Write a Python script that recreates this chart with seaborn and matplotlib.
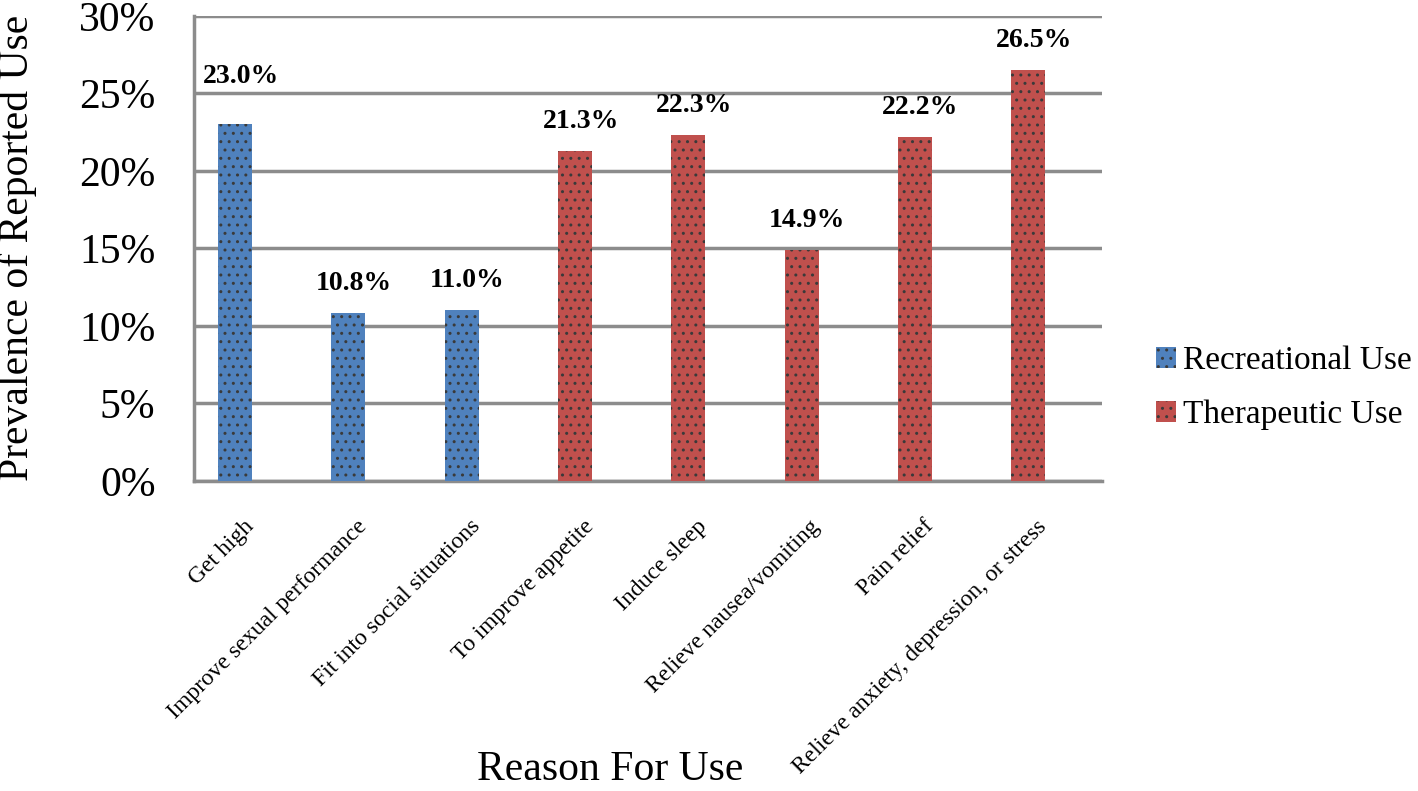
import matplotlib
matplotlib.use("Agg")
import matplotlib.pyplot as plt
import matplotlib.transforms as mtransforms
import pandas as pd
import seaborn as sns

reasons = [
    "Get high",
    "Improve sexual performance",
    "Fit into social situations",
    "To improve appetite",
    "Induce sleep",
    "Relieve nausea/vomiting",
    "Pain relief",
    "Relieve anxiety, depression, or stress",
]
prevalence = [23.0, 10.8, 11.0, 21.3, 22.3, 14.9, 22.2, 26.5]
use_type = ["Recreational Use"] * 3 + ["Therapeutic Use"] * 5
label_lift = [2.3, 1.1, 1.1, 1.1, 1.1, 1.1, 1.1, 1.1]

df = pd.DataFrame({"reason": reasons, "value": prevalence, "type": use_type})

sns.set_style("white")
plt.rcParams["font.family"] = ["Liberation Serif", "DejaVu Serif"]
plt.rcParams["text.color"] = "black"
plt.rcParams["xtick.color"] = "black"
plt.rcParams["ytick.color"] = "black"
plt.rcParams["axes.labelcolor"] = "black"
plt.rcParams["hatch.linewidth"] = 1.0

fig = plt.figure(figsize=(14.18, 7.91), dpi=100)
ax = fig.add_axes([0.137, 0.392, 0.640, 0.588])

sns.barplot(data=df, x="reason", y="value", hue="type", dodge=False,
            palette={"Recreational Use": "#4f81bd", "Therapeutic Use": "#c0504d"},
            saturation=1, width=0.30, ax=ax, zorder=3)
for p in ax.patches:
    p.set_hatch("..")
    p.set_edgecolor("#3a3a3a")
    p.set_linewidth(0)

for i, (v, lift) in enumerate(zip(prevalence, label_lift)):
    ax.text(i + 0.05, v + lift, f"{v:.1f}%", ha="center", va="bottom",
            fontsize=20, fontweight="bold")

ax.set_xlim(-0.36, 7.65)
ax.set_ylim(0, 30)
ax.set_yticks(range(0, 31, 5))
ax.set_yticklabels([f"{t}%" for t in range(0, 31, 5)], fontsize=30)
ax.yaxis.grid(True, color="#8c8c8c", linewidth=2.5, zorder=0)
ax.set_axisbelow(True)
ax.tick_params(axis="y", length=0, pad=28)
ax.tick_params(axis="x", length=0)

offset = mtransforms.ScaledTranslation(8 / 100, -30 / 100, fig.dpi_scale_trans)
ax.set_xticks(range(len(reasons)))
ax.set_xticklabels(reasons, rotation=45, ha="right", rotation_mode="anchor", fontsize=17)
for lbl in ax.get_xticklabels():
    lbl.set_transform(lbl.get_transform() + offset)

for s in ["top", "right"]:
    ax.spines[s].set_visible(False)
for s in ["left", "bottom"]:
    ax.spines[s].set_color("#8c8c8c")
    ax.spines[s].set_linewidth(2.5)

ax.set_ylabel("Prevalence of Reported Use", fontsize=30)
ax.yaxis.set_label_coords(-0.173, 0.5)
ax.set_xlabel("")
fig.text(0.430, 0.003, "Reason For Use", ha="center", va="bottom", fontsize=30)

ax.legend(loc="center left", bbox_to_anchor=(1.06, 0.2), frameon=False,
          fontsize=24, handlelength=0.6, handleheight=0.6, handletextpad=0.2,
          labelspacing=0.7, borderpad=0, borderaxespad=0)

fig.savefig("out.png", dpi=100)
